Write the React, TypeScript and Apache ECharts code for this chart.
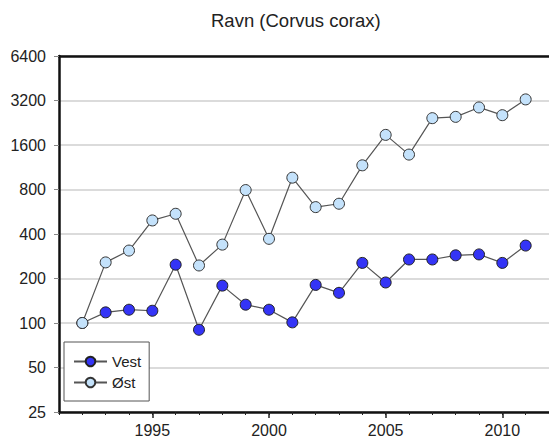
import React, { useEffect, useRef } from "react";
import * as echarts from "echarts";

const years = [1992, 1993, 1994, 1995, 1996, 1997, 1998, 1999, 2000, 2001, 2002, 2003, 2004, 2005, 2006, 2007, 2008, 2009, 2010, 2011];
const vest = [100, 118, 123, 121, 248, 90, 179, 133, 123, 101, 181, 160, 255, 188, 269, 269, 287, 291, 255, 334];
const ost = [100, 257, 309, 494, 548, 245, 339, 793, 371, 962, 608, 641, 1166, 1873, 1378, 2430, 2480, 2872, 2546, 3255];
const yBase = 25;
const yTickCount = 8; // 25 .. 6400, doubling
const majorYears = [1995, 2000, 2005, 2010];
const title = "Ravn (Corvus corax)";

const FONT = "'Liberation Sans', Arial, sans-serif";

const toLog = (v: number) => Math.log2(v / yBase);

export default function App() {
  const ref = useRef<HTMLDivElement>(null);
  useEffect(() => {
    if (!ref.current) return;
    const chart = echarts.init(ref.current, null, { renderer: "svg" });
    const frame = { show: true, lineStyle: { color: "#111", width: 2.5 } };
    chart.setOption({
      animation: false,
      backgroundColor: "#fff",
      title: {
        text: title,
        left: 211,
        top: 11,
        padding: 0,
        textStyle: { fontFamily: FONT, fontSize: 18.5, fontWeight: "normal", color: "#222" },
      },
      grid: { left: 59, top: 56, right: -2, bottom: 31, containLabel: false },
      legend: {
        orient: "vertical",
        left: 64,
        top: 342,
        padding: [12, 8, 11, 9],
        itemWidth: 33,
        itemHeight: 12,
        itemGap: 6,
        borderColor: "#555",
        borderWidth: 1,
        backgroundColor: "#fff",
        textStyle: { fontFamily: FONT, fontSize: 15, color: "#222" },
        data: ["Vest", "Øst"],
      },
      xAxis: [
        {
          type: "value",
          min: 1991,
          max: 2012,
          interval: 1,
          axisLine: frame,
          axisTick: { show: true, length: 3, lineStyle: { color: "#222", width: 1 } },
          axisLabel: { show: false },
          splitLine: { show: false },
        },
        {
          type: "value",
          min: 1991,
          max: 2012,
          position: "bottom",
          axisLine: { show: false },
          axisTick: { show: true, length: 6, customValues: majorYears, lineStyle: { color: "#222", width: 1.5 } },
          axisLabel: {
            show: true,
            customValues: majorYears,
            margin: 10,
            fontFamily: FONT,
            fontSize: 16,
            color: "#222",
            formatter: (v: number) => String(v),
          },
          splitLine: { show: false },
        },
        {
          type: "value",
          min: 1991,
          max: 2012,
          position: "top",
          axisLine: frame,
          axisTick: { show: false },
          axisLabel: { show: false },
          splitLine: { show: false },
        },
      ],
      yAxis: {
        type: "value",
        min: 0,
        max: yTickCount,
        interval: 1,
        axisLine: frame,
        axisTick: { show: true, length: 5, lineStyle: { color: "#888", width: 1 } },
        axisLabel: {
          margin: 13,
          fontFamily: FONT,
          fontSize: 16,
          color: "#222",
          formatter: (v: number) => String(Math.round(yBase * Math.pow(2, v))),
        },
        splitLine: { show: true, lineStyle: { color: "#cfcfcf", width: 1.5 } },
      },
      series: [
        {
          name: "Vest",
          type: "line",
          xAxisIndex: 0,
          data: years.map((y, i) => [y, toLog(vest[i])]),
          symbol: "circle",
          symbolSize: 11,
          itemStyle: { color: "#3434f6", borderColor: "#222", borderWidth: 1 },
          lineStyle: { color: "#555", width: 1.2 },
          z: 3,
        },
        {
          name: "Øst",
          type: "line",
          xAxisIndex: 0,
          data: years.map((y, i) => [y, toLog(ost[i])]),
          symbol: "circle",
          symbolSize: 11,
          itemStyle: { color: "#c4e2fb", borderColor: "#333", borderWidth: 1 },
          lineStyle: { color: "#555", width: 1.2 },
          z: 4,
        },
      ],
    });
    return () => chart.dispose();
  }, []);
  return (
    <div
      ref={ref}
      style={{ position: "fixed", left: 0, top: 0, width: 549, height: 443 }}
    />
  );
}
